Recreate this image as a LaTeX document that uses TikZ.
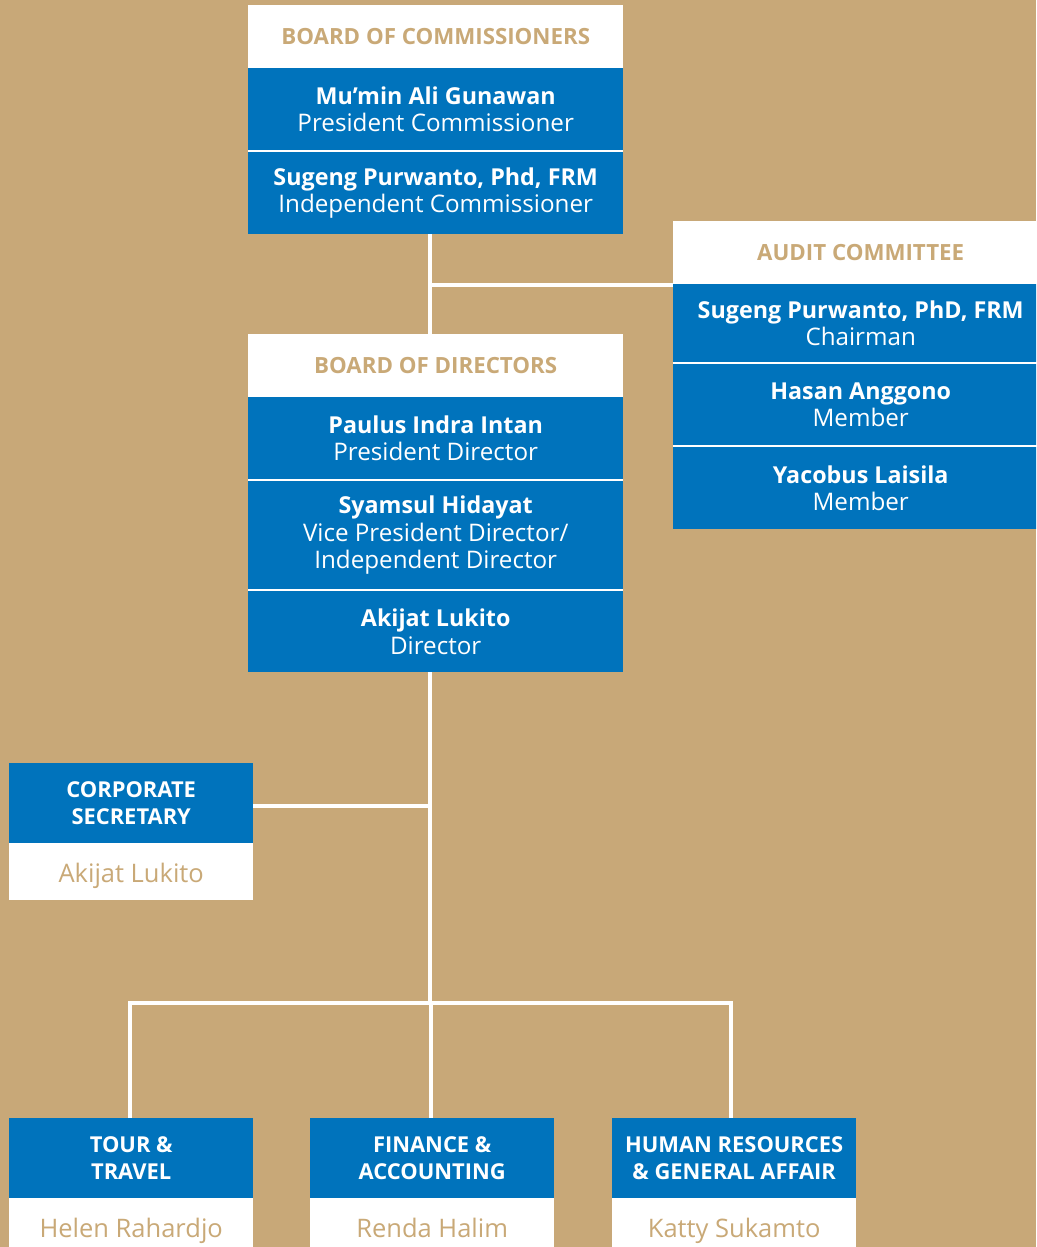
\documentclass[tikz,border=0pt]{standalone}
\usepackage{fontspec}
\setmainfont{Open Sans}
\definecolor{tanbg}{RGB}{200,168,120}
\definecolor{oblue}{RGB}{0,115,188}
\definecolor{gold}{RGB}{201,169,119}
\begin{document}
\begin{tikzpicture}[x=1pt,y=-1pt,
  frame/.style={rectangle, inner sep=0pt, anchor=north west, fill=white},
  hdr/.style={rectangle, inner sep=0pt, anchor=north west, align=center, fill=white, text=gold, font=\bfseries\fontsize{22.3}{27}\selectfont},
  bl/.style={rectangle, inner sep=0pt, anchor=north west, align=center, fill=oblue, text=white, font=\fontsize{24.2}{27.5}\selectfont},
  dept/.style={rectangle, inner sep=0pt, anchor=north west, align=center, fill=oblue, text=white, minimum width=244pt, minimum height=80pt, font=\bfseries\fontsize{21.9}{27}\selectfont},
  nm/.style={rectangle, inner sep=0pt, anchor=north west, align=center, fill=white, text=gold, minimum width=244pt, text depth=0pt, font=\fontsize{25.5}{28}\selectfont},
  conn/.style={draw=white, line width=4pt}]
\newcommand{\nmb}[1]{{\bfseries\fontsize{23.3}{27.5}\selectfont #1}}
\clip (0,0) rectangle (1036,1247);
\useasboundingbox (0,0) rectangle (1036,1247);
\fill[tanbg] (0,0) rectangle (1036,1247);

% Board of Commissioners
\node[frame, minimum width=375pt, minimum height=229pt] (bocf) at (248,5) {};
\node[hdr, minimum width=375pt, minimum height=62pt] (boc) at (248,5) {BOARD OF COMMISSIONERS};
\node[bl, minimum width=375pt, minimum height=82pt] (boc1) at (248,68) {\nmb{Mu’min Ali Gunawan}\\President Commissioner};
\node[bl, minimum width=375pt, minimum height=82pt] (boc2) at (248,152) {\nmb{Sugeng Purwanto, Phd, FRM}\\Independent Commissioner};

% Audit Committee (box runs past the right edge)
\node[frame, minimum width=375pt, minimum height=308pt] (acf) at (673,221) {};
\node[hdr, minimum width=375pt, minimum height=62pt] (ac) at (673,221) {AUDIT COMMITTEE};
\node[bl, minimum width=375pt, minimum height=78pt] (ac1) at (673,284) {\nmb{Sugeng Purwanto, PhD, FRM}\\Chairman};
\node[bl, minimum width=375pt, minimum height=81pt] (ac2) at (673,364) {\nmb{Hasan Anggono}\\Member};
\node[bl, minimum width=375pt, minimum height=82pt] (ac3) at (673,447) {\nmb{Yacobus Laisila}\\Member};

% Board of Directors
\node[frame, minimum width=375pt, minimum height=338pt] (bodf) at (248,334) {};
\node[hdr, minimum width=375pt, minimum height=62pt] (bod) at (248,334) {BOARD OF DIRECTORS};
\node[bl, minimum width=375pt, minimum height=82pt] (bod1) at (248,397) {\nmb{Paulus Indra Intan}\\President Director};
\node[bl, minimum width=375pt, minimum height=108pt] (bod2) at (248,481) {\nmb{Syamsul Hidayat}\\Vice President Director/\\Independent Director};
\node[bl, minimum width=375pt, minimum height=81pt] (bod3) at (248,591) {\nmb{Akijat Lukito}\\Director};

% Corporate Secretary
\node[dept] (cs) at (9,763) {CORPORATE\\SECRETARY};
\node[nm, minimum height=57pt, text height=21pt] (csn) at (9,843) {Akijat Lukito};

% Departments
\node[dept] (tt) at (9,1118) {TOUR \&\\TRAVEL};
\node[nm, minimum height=60pt, text height=18pt] (ttn) at (9,1198) {Helen Rahardjo};
\node[dept] (fa) at (310,1118) {FINANCE \&\\ACCOUNTING};
\node[nm, minimum height=60pt, text height=18pt] (fan) at (310,1198) {Renda Halim};
\node[dept] (hr) at (612,1118) {HUMAN RESOURCES\\\& GENERAL AFFAIR};
\node[nm, minimum height=60pt, text height=18pt] (hrn) at (612,1198) {Katty Sukamto};

% Connectors
\coordinate (jx) at (430,0);
\coordinate (jA) at (430,285);
\coordinate (jC) at (430,806);
\coordinate (jB) at (430,1003);
\coordinate (xt) at (130,0);
\coordinate (xf) at (431,0);
\coordinate (xh) at (731,0);
\draw[conn] (bocf.south -| jx) -- (bodf.north -| jx);
\draw[conn] (jA) -- (jA -| acf.west);
\draw[conn] (bodf.south -| jx) -- (jB);
\draw[conn] (jC) -- (jC -| cs.east);
\draw[conn, line join=miter] (tt.north -| xt) |- (jB) -| (hr.north -| xh);
\draw[conn] (jB -| xf) -- (fa.north -| xf);
\end{tikzpicture}
\end{document}
